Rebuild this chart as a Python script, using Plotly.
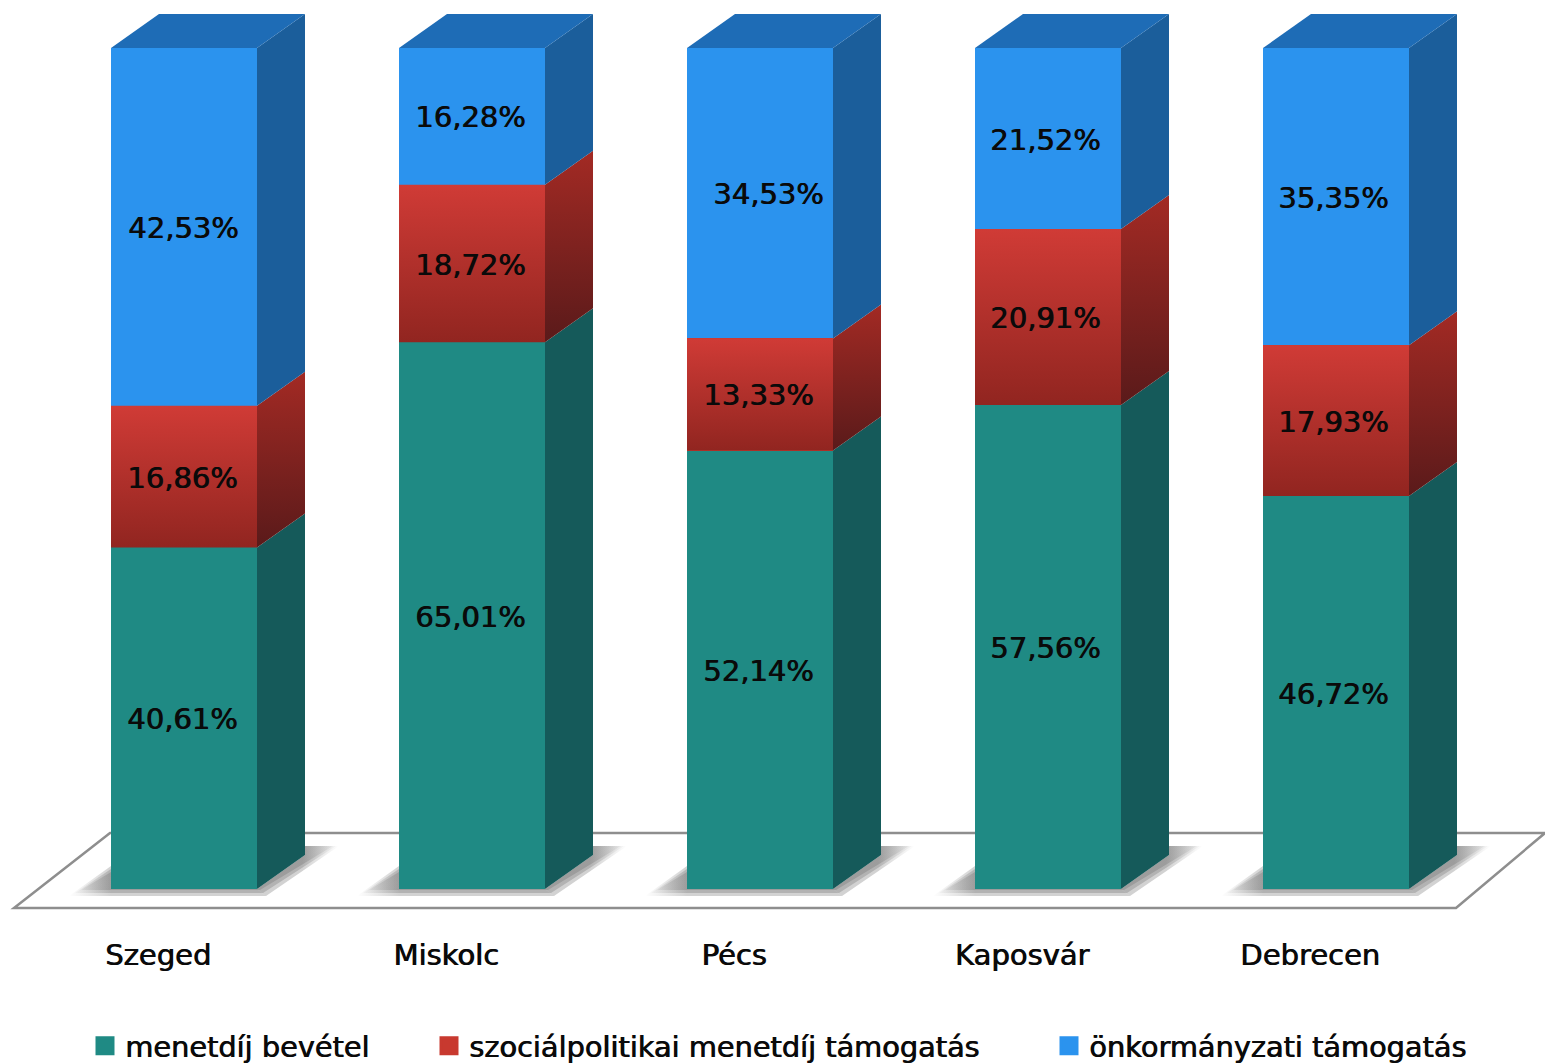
import plotly.graph_objects as go

cities = ["Szeged", "Miskolc", "Pécs", "Kaposvár", "Debrecen"]
fare_revenue = [40.61, 65.01, 52.14, 57.56, 46.72]
social_support = [16.86, 18.72, 13.33, 20.91, 17.93]
municipal_support = [42.53, 16.28, 34.53, 21.52, 35.35]

series_names = ["menetdíj bevétel", "szociálpolitikai menetdíj támogatás", "önkormányzati támogatás"]
series_values = [fare_revenue, social_support, municipal_support]
front_colors = ["#1f8a84", "#c8392f", "#2b93ee"]
side_colors = ["#155a5a", "#7d2320", "#1b5e9b"]
top_color = "#1e6cb6"
label_shift = [[-2, -2, -2, -3, -3], [-2, -2, -2, -3, -3], [-1, -2, 8, -3, -3]]

W, H = 1545, 1064
AXIS_PX = 930
PX_PER_CAT = 288.0
PX_PER_PCT = 8.41
ZERO_X, ZERO_Y, TOP_PX = 184.0, 889.0, 48.0
BAR_PX = 146.0
DX = 48.0 / PX_PER_CAT
DY = 34.0 / PX_PER_PCT
HALF = BAR_PX / 2 / PX_PER_CAT
INK = "#0a0a0a"
FONT = dict(family="DejaVu Sans", size=29, color=INK, shadow="0.8px 0 0 #0a0a0a")
LEGEND_FONT = dict(family="DejaVu Sans", size=28.8, color=INK, shadow="0.8px 0 0 #0a0a0a")


def xd(px):
    return (px - ZERO_X) / PX_PER_CAT


def yd(px):
    return (ZERO_Y - px) / PX_PER_PCT


def cx(n):
    return n / PX_PER_CAT


def polygon(xs, ys, **kw):
    return go.Scatter(x=xs, y=ys, mode="lines", line=dict(width=0), fill="toself",
                      showlegend=False, hoverinfo="skip", **kw)


fig = go.Figure()

# bar front faces
for name, vals, col in zip(series_names, series_values, front_colors):
    fig.add_trace(go.Bar(x=list(range(len(cities))), y=vals, name=name, width=BAR_PX / PX_PER_CAT,
                         marker=dict(color=col, line=dict(width=0)), showlegend=False, hoverinfo="skip"))

# soft floor shadows: three layers per bar, drawn round the bar's base
CLEAR = "rgba(0,0,0,0)"
for i in range(len(cities)):
    l, r = i - HALF, i + HALF
    for inset in (0, 3, 6):
        grey = "rgba(105,105,105,0.3)"
        fade = "rgba(105,105,105,0)"
        # left wedge
        fig.add_trace(polygon([l - cx(42 - inset * 2), l, l, l - cx(42 - inset * 2)],
                              [yd(896 - inset), yd(866 + inset), yd(896 - inset), yd(896 - inset)],
                              fillcolor=CLEAR,
                              fillgradient=dict(type="horizontal", start=l - cx(42), stop=l,
                                                colorscale=[[0, fade], [1, grey]])))
        # strip below the front face
        fig.add_trace(polygon([l, r + cx(9 - inset), r, l, l],
                              [yd(896 - inset), yd(896 - inset), 0, 0, yd(896 - inset)],
                              fillcolor=grey))
        # right wing: crisp far edge, soft near edge
        fig.add_trace(polygon([r, r + DX, r + DX, r + cx(82 - inset), r + cx(9 - inset), r],
                              [0, DY, yd(846), yd(846), yd(896 - inset), 0],
                              fillcolor=CLEAR,
                              fillgradient=dict(type="horizontal", start=r, stop=r + cx(82),
                                                colorscale=[[0, grey], [0.55, grey], [1, fade]])))

# side faces, top faces and the red gradient
for i in range(len(cities)):
    l, r = i - HALF, i + HALF
    base = 0.0
    for s, vals in enumerate(series_values):
        lo, hi = base, base + vals[i]
        base = hi
        sx = [r, r + DX, r + DX, r, r]
        sy = [lo, lo + DY, hi + DY, hi, lo]
        kw = dict(fillcolor=side_colors[s])
        if s == 1:
            kw = dict(fillcolor=CLEAR,
                      fillgradient=dict(type="vertical", start=lo, stop=hi + DY,
                                        colorscale=[[0, "#5a1a1a"], [1, "#a32a24"]]))
            fig.add_trace(polygon([l, r, r, l, l], [lo, lo, hi, hi, lo], fillcolor=CLEAR,
                                  fillgradient=dict(type="vertical", start=lo, stop=hi,
                                                    colorscale=[[0, "#912520"], [1, "#d03b36"]])))
        fig.add_trace(polygon(sx, sy, **kw))
    fig.add_trace(polygon([l, l + DX, r + DX, r, l], [base, base + DY, base + DY, base, base],
                          fillcolor=top_color))

# legend entries, one legend each so they can sit at the reference positions
legend_ids = ["legend", "legend2", "legend3"]
for name, col, lid in zip(series_names, front_colors, legend_ids):
    fig.add_trace(go.Scatter(x=[None], y=[None], mode="markers", name=name, legend=lid, hoverinfo="skip",
                             marker=dict(symbol="square", size=16, color=col, line=dict(width=3, color=col))))

# value labels
annotations = []
for i in range(len(cities)):
    base = 0.0
    for s, vals in enumerate(series_values):
        annotations.append(dict(x=i, y=base + vals[i] / 2, xref="x", yref="y", showarrow=False,
                                text=f"{vals[i]:.2f}".replace(".", ",") + "%", xshift=label_shift[s][i],
                                yshift=-1, xanchor="center", yanchor="middle", font=FONT))
        base += vals[i]

# floor outline
fl, fr = 14, 1456
floor = f"M{xd(fl)},{yd(908)} L{xd(fr)},{yd(908)} L{xd(1545)},{yd(833)} L{xd(110)},{yd(833)} Z"

legend_common = dict(orientation="h", yanchor="middle", xanchor="left", y=(AXIS_PX - 1046) / AXIS_PX,
                     bgcolor="rgba(0,0,0,0)", font=LEGEND_FONT,
                     itemclick=False, itemdoubleclick=False)

fig.update_layout(
    width=W, height=H, barmode="stack", paper_bgcolor="white", plot_bgcolor="white",
    margin=dict(l=0, r=0, t=0, b=H - AXIS_PX, pad=0, autoexpand=False),
    xaxis=dict(range=[xd(0), xd(W)], tickmode="array", tickvals=[i - 26 / PX_PER_CAT for i in range(len(cities))],
               ticktext=cities, showgrid=False, zeroline=False, showline=False, ticks="", ticklabelstandoff=5,
               tickfont=FONT),
    yaxis=dict(range=[yd(AXIS_PX), yd(0)], visible=False, showgrid=False, zeroline=False),
    shapes=[dict(type="path", path=floor, layer="below", line=dict(color="#8e8e8e", width=2.5), fillcolor="white")],
    annotations=annotations,
    legend=dict(x=85 / W, **legend_common),
    legend2=dict(x=429 / W, **legend_common),
    legend3=dict(x=1049 / W, **legend_common),
)

fig.write_html("out.html", config={"displayModeBar": False},
               post_script="document.body.style.margin='0';")
